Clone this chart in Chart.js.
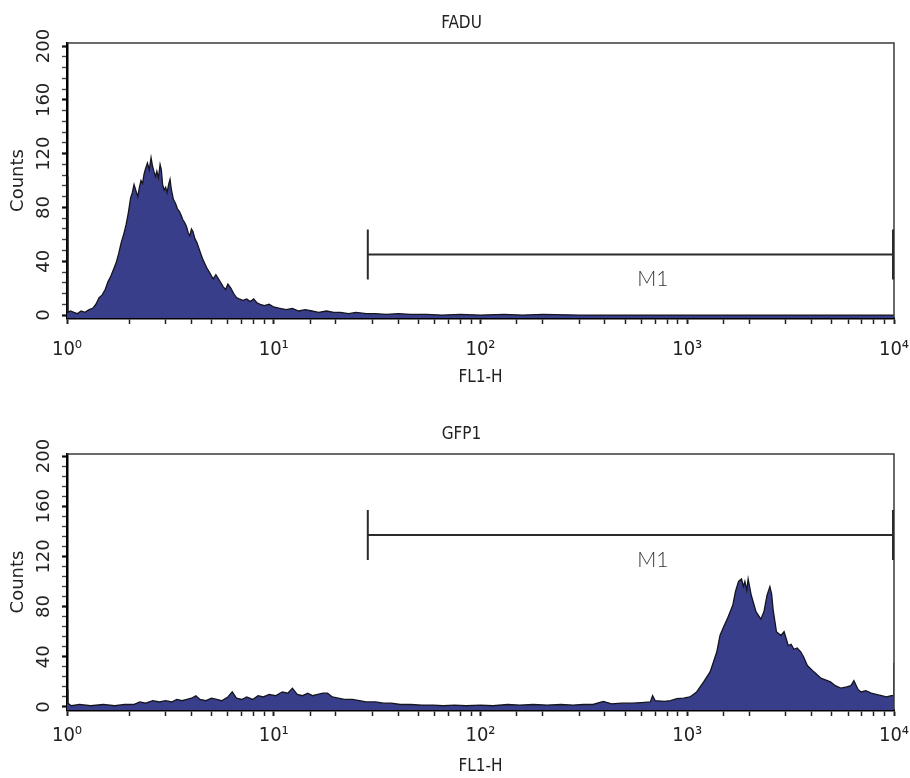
<!DOCTYPE html>
<html>
<head>
<meta charset="utf-8">
<script src="https://cdn.jsdelivr.net/npm/chart.js@4.4.1/dist/chart.umd.min.js"></script>
<style>
  html, body { margin: 0; padding: 0; background: #fff; }
  .panel { position: absolute; left: 0; width: 910px; }
  #topPanel { top: 0; height: 395px; }
  #bottomPanel { top: 395px; height: 383px; }
</style>
</head>
<body>
<div class="panel" id="topPanel"><canvas id="faduChart"></canvas></div>
<div class="panel" id="bottomPanel"><canvas id="gfpChart"></canvas></div>
<script>
// FL1-H values (x) and counts (y)
const fadVal = [
  1.00, 1.01, 1.04, 1.08, 1.12, 1.17, 1.22, 1.28, 1.33, 1.38,
  1.43, 1.48, 1.53, 1.58, 1.63, 1.68, 1.73, 1.78, 1.83, 1.88,
  1.93, 1.98, 2.03, 2.07, 2.11, 2.16, 2.20, 2.24, 2.28, 2.32,
  2.36, 2.40, 2.45, 2.50, 2.55, 2.59, 2.63, 2.68, 2.72, 2.77,
  2.82, 2.86, 2.90, 2.95, 3.00, 3.05, 3.10, 3.15, 3.20, 3.27,
  3.35, 3.42, 3.50, 3.57, 3.63, 3.70, 3.78, 3.86, 3.93, 4.00,
  4.07, 4.15, 4.25, 4.36, 4.45, 4.55, 4.65, 4.75, 4.88, 5.00,
  5.10, 5.25, 5.40, 5.55, 5.70, 5.85, 6.00, 6.20, 6.40, 6.60,
  6.80, 7.10, 7.40, 7.70, 8.00, 8.30, 8.60, 9.00, 9.50, 10.0,
  10.7, 11.5, 12.3, 13.2, 14.2, 15.3, 16.5, 18.0, 19.5, 21.0,
  23.0, 25.0, 28.0, 31.0, 35.0, 40.0, 46.0, 55.0, 65.0, 80.0,
  100, 130, 160, 200, 300, 500, 1000, 10000
];
const fadCount = [
  103, 2, 3, 2, 1, 3, 2, 4, 5, 8,
  13, 15, 19, 25, 29, 34, 39, 46, 54, 60,
  67, 76, 87, 91, 97, 92, 88, 95, 100, 98,
  105, 109, 113, 108, 117, 111, 107, 103, 107, 102,
  112, 108, 97, 93, 95, 91, 97, 101, 93, 86,
  83, 79, 77, 74, 71, 69, 66, 61, 59, 64,
  62, 57, 54, 49, 45, 41, 38, 35, 32, 29,
  27, 30, 27, 24, 21, 19, 23, 20, 16, 13,
  12, 11, 12, 10, 12, 9, 8, 7, 8, 6,
  5, 4, 5, 3, 4, 3, 2, 3, 2, 2,
  1, 2, 1, 1, 0.5, 1, 0.5, 0.5, 0, 0.5,
  0, 0.5, 0, 0.5, 0, 0, 0, 0
];

const gfpVal = [
  1.00, 1.01, 1.05, 1.15, 1.3, 1.5, 1.7, 1.9, 2.1, 2.25,
  2.4, 2.6, 2.8, 3.0, 3.2, 3.4, 3.6, 3.8, 4.0, 4.2,
  4.4, 4.7, 5.0, 5.3, 5.6, 6.0, 6.3, 6.6, 7.0, 7.4,
  7.9, 8.4, 8.9, 9.5, 10.2, 11.0, 11.7, 12.3, 13.0, 13.8,
  14.6, 15.4, 16.3, 17.3, 18.2, 19.2, 20.5, 22.0, 24.0, 26.0,
  28.0, 31.0, 34.0, 37.0, 41.0, 46.0, 52.0, 59.0, 66.0, 75.0,
  85, 100, 115, 135, 155, 180, 210, 245, 280, 315,
  350, 393, 430, 480, 540, 600, 663, 680, 700, 774,
  830, 890, 960, 1030, 1110, 1200, 1290, 1390, 1440, 1500,
  1560, 1660, 1710, 1770, 1830, 1870, 1900, 1940, 1970, 2040,
  2150, 2270, 2350, 2430, 2510, 2560, 2600, 2700, 2840, 2940,
  3080, 3180, 3280, 3400, 3540, 3650, 3810, 4100, 4430, 4930,
  5200, 5530, 5900, 6190, 6400, 6700, 6930, 7300, 7760, 8200,
  8700, 9200, 9700, 9990, 10000
];
const gfpCount = [
  14, 3, 1, 2, 1, 2, 1, 2, 2, 4,
  3, 5, 4, 5, 4, 6, 5, 6, 7, 9,
  6, 5, 7, 6, 5, 8, 12, 7, 6, 8,
  6, 9, 8, 10, 9, 12, 11, 15, 10, 9,
  11, 9, 10, 11, 11, 8, 7, 6, 6, 5,
  4, 4, 3, 3, 2, 2, 1.5, 1.5, 1, 1.5,
  1, 1.5, 1, 2, 1.5, 2, 1.5, 2, 1.5, 2,
  2, 4.5, 2.5, 3, 3, 3.5, 4, 9, 5, 4.5,
  5, 6.6, 7, 8, 12, 20, 28, 44, 57, 64,
  70, 81, 92, 100, 102, 96, 100, 93, 102, 89,
  76, 70, 76, 89, 96, 90, 78, 60, 57, 60,
  49, 50, 46, 47, 44, 40, 33, 28, 23, 20,
  17, 15, 16, 17, 21, 14, 12, 13, 11, 10,
  9, 8, 9, 9, 35
];

// axis labels and tick positions
const decadeLabels = ['10\u2070', '10\u00B9', '10\u00B2', '10\u00B3', '10\u2074'];
const countTicks = [0, 40, 80, 120, 160, 200];
const countMinorTicks = [
  0, 8, 16, 24, 32, 40, 48, 56, 64, 72, 80, 88, 96,
  104, 112, 120, 128, 136, 144, 152, 160, 168, 176, 184, 192, 200
];

// M1 gate: [start, end] on FL1-H and the count level it is drawn at
const fadGate = [28.5, 10000];
const fadGateLevel = 45;
const gfpGate = [28.5, 10000];
const gfpGateLevel = 137;

const narrow = '"Liberation Sans Narrow", "DejaVu Sans Condensed", "Roboto Condensed", sans-serif';
const wide = '"DejaVu Sans", Verdana, sans-serif';

function isMajorCount(v) {
  return countTicks.indexOf(v) >= 0;
}

function isDecade(v) {
  const e = Math.log10(v);
  return Math.abs(e - Math.round(e)) < 1e-9;
}

// panel title + frame + M1 gate, drawn with the chart's own scales
const panelPlugin = {
  id: 'panel',
  afterDatasetsDraw(chart, args, opts) {
    const ctx = chart.ctx;
    const area = chart.chartArea;
    const x = chart.scales.x, y = chart.scales.y;
    ctx.save();
    // top and right frame
    ctx.strokeStyle = '#3a3a3a';
    ctx.lineWidth = 1.5;
    ctx.beginPath();
    ctx.moveTo(area.left, area.top);
    ctx.lineTo(area.right, area.top);
    ctx.lineTo(area.right, area.bottom);
    ctx.stroke();

    // gate marker
    const x0 = x.getPixelForValue(opts.gate[0]);
    const x1 = x.getPixelForValue(opts.gate[1]);
    const yy = y.getPixelForValue(opts.level);
    ctx.strokeStyle = '#2b2b2b';
    ctx.lineWidth = 2;
    ctx.beginPath();
    ctx.moveTo(x0, yy); ctx.lineTo(x1, yy);
    ctx.moveTo(x0, yy - 25); ctx.lineTo(x0, yy + 25);
    ctx.moveTo(x1 - 1, yy - 25); ctx.lineTo(x1 - 1, yy + 25);
    ctx.stroke();
    ctx.fillStyle = '#333';
    ctx.font = '300 21px Lato, "Open Sans", sans-serif';
    ctx.textAlign = 'center';
    ctx.textBaseline = 'middle';
    ctx.fillText('M1', (x0 + x1) / 2 + 22, yy + 25);

    // title
    ctx.fillStyle = '#222';
    ctx.font = '17px ' + narrow;
    ctx.fillText(opts.title, (area.left + area.right) / 2 - 19, opts.titleY);
    ctx.restore();
  }
};

function makeHistogram(canvasId, opts) {
  const points = opts.vals.map(function (v, i) { return { x: v, y: opts.counts[i] }; });
  return new Chart(document.getElementById(canvasId), {
    type: 'line',
    data: {
      datasets: [{
        data: points,
        borderColor: '#15151f',
        borderWidth: 1.3,
        backgroundColor: 'rgb(56, 62, 138)',
        fill: 'start',
        pointRadius: 0,
        tension: 0
      }]
    },
    options: {
      responsive: true,
      maintainAspectRatio: false,
      animation: false,
      layout: { padding: { left: 0, right: 16, top: opts.plotTop, bottom: 0 } },
      plugins: {
        legend: { display: false },
        tooltip: { enabled: false },
        panel: { title: opts.title, titleY: opts.titleY, gate: opts.gate, level: opts.level }
      },
      scales: {
        x: {
          type: 'logarithmic',
          min: 1,
          max: 10000,
          z: 1,
          afterFit: function (s) {
            s.height = opts.xHeight;
            s.paddingLeft = 0;
            s.paddingRight = 0;
          },
          border: { display: true, color: '#000', width: 2.5 },
          grid: {
            drawOnChartArea: false,
            drawTicks: true,
            tickLength: 6,
            tickColor: '#222',
            tickWidth: function (c) {
              return c.tick && isDecade(c.tick.value) ? 2 : 1.5;
            }
          },
          ticks: {
            autoSkip: false,
            maxRotation: 0,
            padding: opts.tickPad,
            color: '#222',
            font: { family: narrow, size: 20 },
            callback: function (value) {
              return isDecade(value) ? decadeLabels[Math.round(Math.log10(value))] : '';
            }
          },
          title: {
            display: true,
            text: 'FL1-H',
            color: '#222',
            font: { family: narrow, size: 17 },
            padding: { top: 0, bottom: opts.titlePad }
          }
        },
        y: {
          min: opts.yMin,
          max: opts.yMax,
          z: 1,
          afterBuildTicks: function (s) {
            s.ticks = countMinorTicks.map(function (v) { return { value: v }; });
          },
          afterFit: function (s) {
            s.width = 67;
            s.paddingTop = 0;
            s.paddingBottom = 0;
          },
          border: { display: true, color: '#000', width: 2.5 },
          grid: {
            drawOnChartArea: false,
            drawTicks: true,
            tickLength: 5,
            tickColor: function (c) {
              return c.tick && isMajorCount(c.tick.value) ? '#111' : '#444';
            },
            tickWidth: function (c) {
              return c.tick && isMajorCount(c.tick.value) ? 2.2 : 1.4;
            }
          },
          ticks: {
            autoSkip: false,
            minRotation: 90,
            maxRotation: 90,
            crossAlign: 'center',
            padding: 0,
            color: '#222',
            font: { family: wide, size: 18 },
            callback: function (value) {
              return isMajorCount(value) ? String(value) : '';
            }
          },
          title: {
            display: true,
            text: 'Counts',
            color: '#222',
            font: { family: wide, size: 18 },
            padding: { top: 8, bottom: 0 }
          }
        }
      }
    },
    plugins: [panelPlugin]
  });
}

makeHistogram('faduChart', {
  vals: fadVal, counts: fadCount, title: 'FADU', titleY: 24,
  gate: fadGate, level: fadGateLevel,
  plotTop: 43, xHeight: 77, tickPad: 14, titlePad: 7,
  yMin: -2.2, yMax: 202.3
});

makeHistogram('gfpChart', {
  vals: gfpVal, counts: gfpCount, title: 'GFP1', titleY: 40,
  gate: gfpGate, level: gfpGateLevel,
  plotTop: 59, xHeight: 68, tickPad: 8, titlePad: 1,
  yMin: -2.4, yMax: 201.6
});
</script>
</body>
</html>
